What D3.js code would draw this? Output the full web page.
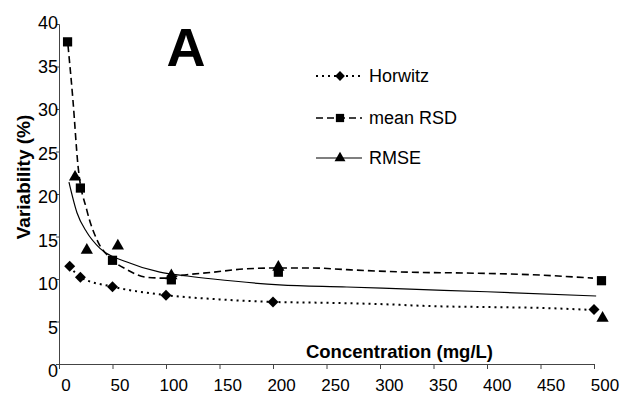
<!DOCTYPE html>
<html>
<head>
<meta charset="utf-8">
<script src="https://cdn.jsdelivr.net/npm/d3@7"></script>
<style>
  body { margin: 0; background: #fff; }
  text { font-family: "Liberation Sans", Arial, sans-serif; fill: #000; }
</style>
</head>
<body>
<div id="chart"></div>
<script>
// markers
var horwitzX = [10, 20, 50, 100, 200, 500];
var horwitzY = [11.5, 10.2, 9.1, 8.1, 7.3, 6.4];

var rsdX = [8, 20, 50, 105, 205, 507];
var rsdY = [37.9, 20.7, 12.2, 9.9, 10.8, 9.8];

var rmseX = [15, 26, 55, 105, 205, 508];
var rmseY = [22.0, 13.4, 13.9, 10.4, 11.4, 5.4];

// trend lines
var horwitzLineX = [10, 20, 50, 100, 150, 200, 250, 300, 350, 400, 450, 500];
var horwitzLineY = [11.5, 10.2, 9.1, 8.1, 7.6, 7.3, 7.2, 7.05, 6.8, 6.7, 6.6, 6.35];

var rsdLineX = [8.4, 13, 17.7, 26, 35.5, 47.6, 63.5, 82, 99, 113, 144, 175, 206, 237, 269, 328, 381, 443, 499];
var rsdLineY = [37.5, 31.1, 23.4, 18.1, 14.6, 12.5, 11.1, 10.2, 10.1, 10.4, 10.8, 11.2, 11.3, 11.3, 11.1, 10.8, 10.7, 10.5, 10.1];

var rmseLineX = [9.3, 16.8, 26, 38.3, 63.5, 94.3, 120, 144, 206, 269, 328, 400, 502];
var rmseLineY = [21.4, 17.8, 15.5, 13.6, 12.0, 10.8, 10.35, 10.0, 9.3, 9.06, 8.8, 8.5, 8.0];

var xTicks = [0, 50, 100, 150, 200, 250, 300, 350, 400, 450, 500];
var yTicks = [0, 5, 10, 15, 20, 25, 30, 35, 40];

var legendNames = ["Horwitz", "mean RSD", "RMSE"];

var width = 625, height = 400;

var svg = d3.select("#chart")
	.append("svg")
	.attr("width", width)
	.attr("height", height);

// plot scales
var x = d3.scaleLinear().domain([0, 500]).range([59, 594]);
var y = d3.scaleLinear().domain([0, 40]).range([364, 24]);

// the tick labels sit a bit off the ticks in the original
var xLab = d3.scaleLinear().domain([0, 500]).range([66, 605]);
var yLab = d3.scaleLinear().domain([0, 40]).range([371, 23]);

// axes
svg.append("g")
	.attr("transform", "translate(0,364)")
	.call(d3.axisBottom(x).tickValues(xTicks).tickSize(5).tickFormat(""))
	.call(g => g.select(".domain").attr("stroke", "#444"))
	.call(g => g.selectAll(".tick line").attr("stroke", "#444"));

svg.append("g")
	.attr("transform", "translate(59,0)")
	.call(d3.axisLeft(y).tickValues(yTicks).tickSize(3).tickFormat(""))
	.call(g => g.select(".domain").attr("stroke", "#444"))
	.call(g => g.selectAll(".tick line").attr("stroke", "#444"));

svg.selectAll(".xlab")
	.data(xTicks)
	.enter()
	.append("text")
	.attr("x", d => xLab(d))
	.attr("y", 391)
	.attr("text-anchor", "middle")
	.attr("font-size", 17)
	.text(d => d);

svg.selectAll(".ylab")
	.data(yTicks)
	.enter()
	.append("text")
	.attr("x", 58)
	.attr("y", d => yLab(d) + 6)
	.attr("text-anchor", "end")
	.attr("font-size", 18)
	.text(d => d);

// axis titles
svg.append("text")
	.attr("x", 493)
	.attr("y", 358)
	.attr("text-anchor", "end")
	.attr("font-size", 18.5)
	.attr("font-weight", "bold")
	.text("Concentration (mg/L)");

svg.append("text")
	.attr("transform", "translate(30,177) rotate(-90)")
	.attr("text-anchor", "middle")
	.attr("font-size", 19)
	.attr("font-weight", "bold")
	.text("Variability (%)");

svg.append("text")
	.attr("x", 186)
	.attr("y", 66)
	.attr("text-anchor", "middle")
	.attr("font-size", 54)
	.attr("font-weight", "bold")
	.text("A");

// series styles
var series = [
	{ name: legendNames[0], lx: horwitzLineX, ly: horwitzLineY, mx: horwitzX, my: horwitzY,
	  dash: "2,4", lw: 2, sym: d3.symbolSquare, size: 60, rot: 45 },
	{ name: legendNames[1], lx: rsdLineX, ly: rsdLineY, mx: rsdX, my: rsdY,
	  dash: "7,4", lw: 1.6, sym: d3.symbolSquare, size: 85, rot: 0 },
	{ name: legendNames[2], lx: rmseLineX, ly: rmseLineY, mx: rmseX, my: rmseY,
	  dash: null, lw: 1.2, sym: d3.symbolTriangle, size: 65, rot: 0 }
];

var line = d3.line()
	.x(d => x(d[0]))
	.y(d => y(d[1]))
	.curve(d3.curveMonotoneX);

series.forEach(function(s) {
	svg.append("path")
		.datum(s.lx.map((v, i) => [v, s.ly[i]]))
		.attr("d", line)
		.attr("fill", "none")
		.attr("stroke", "#000")
		.attr("stroke-width", s.lw)
		.attr("stroke-dasharray", s.dash);

	svg.selectAll(null)
		.data(s.mx.map((v, i) => [v, s.my[i]]))
		.enter()
		.append("path")
		.attr("d", d3.symbol().type(s.sym).size(s.size))
		.attr("transform", d => "translate(" + x(d[0]) + "," + y(d[1]) + ") rotate(" + s.rot + ")")
		.attr("fill", "#000");
});

// legend
var legendY = [76, 118, 158];
series.forEach(function(s, i) {
	var g = svg.append("g").attr("transform", "translate(0," + legendY[i] + ")");
	g.append("line")
		.attr("x1", 316).attr("x2", 362)
		.attr("stroke", "#000")
		.attr("stroke-width", s.lw)
		.attr("stroke-dasharray", s.dash);
	g.append("path")
		.attr("d", d3.symbol().type(s.sym).size(s.size * 0.8))
		.attr("transform", "translate(340,0) rotate(" + s.rot + ")")
		.attr("fill", "#000");
	g.append("text")
		.attr("x", 369)
		.attr("y", 6)
		.attr("font-size", 18)
		.text(s.name);
});
</script>
</body>
</html>
